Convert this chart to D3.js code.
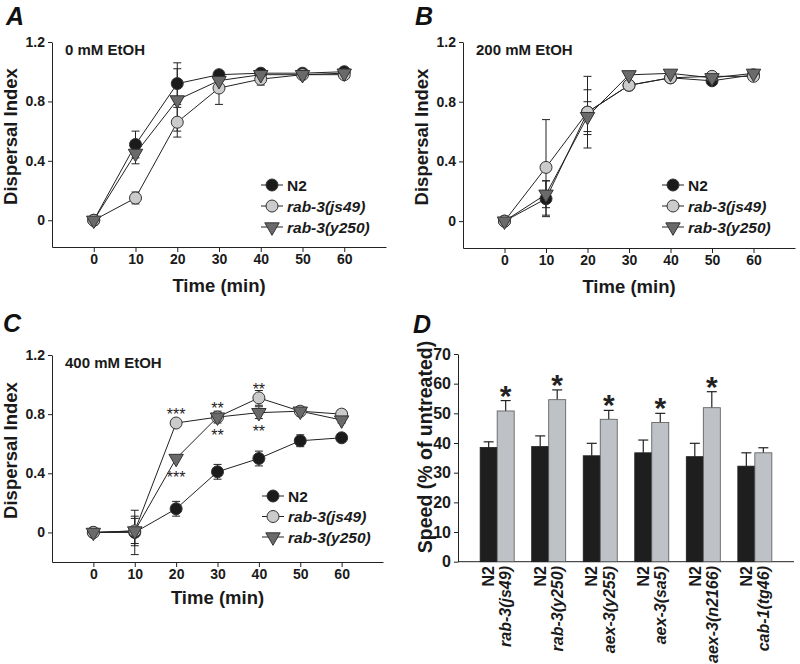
<!DOCTYPE html>
<html><head><meta charset="utf-8">
<script src="https://cdn.jsdelivr.net/npm/d3@7"></script>
<style>body{margin:0;background:#fff}svg{display:block;font-family:"Liberation Sans",Arial,sans-serif}</style>
</head><body><svg id="c" width="800" height="664"></svg>
<script>
// ---------- DATA ----------
const timePoints = [0,10,20,30,40,50,60];
const xTickValues = [0,10,20,30,40,50,60];
const yTickValues = [0,0.4,0.8,1.2];
const seriesNames = ["N2","rab-3(js49)","rab-3(y250)"];

// Panel A: 0 mM EtOH
const aN2 = [0,0.51,0.92,0.98,0.99,0.99,1.00];
const aN2Err = [0.01,0.09,0.14,0.02,0.01,0.01,0.01];
const aJs49 = [0,0.15,0.66,0.89,0.95,0.98,0.98];
const aJs49Err = [0.01,0.04,0.10,0.11,0.04,0.01,0.01];
const aY250 = [0,0.45,0.81,0.94,0.98,0.98,0.99];
const aY250Err = [0.01,0.07,0.21,0.03,0.02,0.01,0.01];

// Panel B: 200 mM EtOH
const bN2 = [0,0.15,0.73,0.91,0.96,0.94,0.98];
const bN2Err = [0.01,0.12,0.24,0.03,0.01,0.01,0.01];
const bJs49 = [0,0.36,0.73,0.91,0.96,0.97,0.97];
const bJs49Err = [0.01,0.32,0.15,0.03,0.01,0.01,0.01];
const bY250 = [0,0.18,0.70,0.98,0.99,0.96,0.99];
const bY250Err = [0.01,0.09,0.10,0.01,0.01,0.01,0.01];

// Panel C: 400 mM EtOH
const cN2 = [0,0.00,0.16,0.41,0.50,0.62,0.64];
const cN2Err = [0.01,0.15,0.05,0.05,0.05,0.04,0.02];
const cJs49 = [0,0.01,0.74,0.78,0.91,0.82,0.80];
const cJs49Err = [0.01,0.085,0.01,0.03,0.05,0.02,0.03];
const cY250 = [0,0.01,0.50,0.78,0.81,0.82,0.76];
const cY250Err = [0.01,0.10,0.01,0.04,0.04,0.03,0.02];
const cSigJs49Above = ["","","***","**","**","",""];
const cSigY250Below = ["","","***","**","**","",""];

// Panel D: speed
const dGenotypes = ["rab-3(js49)","rab-3(y250)","aex-3(y255)","aex-3(sa5)","aex-3(n2166)","cab-1(tg46)"];
const dN2 = [38.5,38.8,35.7,36.7,35.4,32.2];
const dN2Err = [1.9,3.6,4.2,4.3,4.5,4.5];
const dMutant = [50.8,54.6,48.0,46.9,51.9,36.7];
const dMutantErr = [3.5,3.3,3.0,3.1,5.4,1.7];
const dSig = ["*","*","*","*","*",""];
const dYTicks = [0,10,20,30,40,50,60,70];

// ---------- DRAW ----------
const svg = d3.select("#c");
const styles = [
  {fill:"#1b1b1b", shape:"circle"},
  {fill:"#cbcbcb", shape:"circle"},
  {fill:"#6a6a6a", shape:"triangle"}
];
const INK = "#222";

function marker(sel, st){
  if(st.shape==="circle"){
    sel.append("circle").attr("r",6).attr("fill",st.fill).attr("stroke","#333").attr("stroke-width",1);
  } else {
    sel.append("path").attr("d", d3.symbol(d3.symbolTriangle, 90)())
      .attr("transform","rotate(180)").attr("fill",st.fill).attr("stroke","#333").attr("stroke-width",1);
  }
}

function styleAxis(ax, size){
  ax.selectAll("path,line").attr("stroke",INK).attr("stroke-width",1);
  ax.selectAll("text").attr("font-size",size).attr("font-weight","bold").attr("fill","#1a1a1a")
    .attr("font-family",'"Liberation Sans",Arial,sans-serif');
}

function linePanel(o){
  const x = d3.scaleLinear().domain([-10,70]).range([o.x0,o.x1]);
  const y = d3.scaleLinear().domain([o.ymin,1.2]).range([o.yBottom,o.yTop]);
  const g = svg.append("g");
  const ax = g.append("g").attr("transform",`translate(0,${o.yBottom})`)
    .call(d3.axisBottom(x).tickValues(xTickValues).tickSize(5).tickSizeOuter(0).tickPadding(2).tickFormat(d3.format("d")));
  styleAxis(ax,14);
  const ay = g.append("g").attr("transform",`translate(${o.x0},0)`)
    .call(d3.axisLeft(y).tickValues(yTickValues).tickSize(4).tickSizeOuter(0).tickPadding(3)
      .tickFormat(d=>d===0?"0":d3.format(".1f")(d)));
  styleAxis(ay,14);

  // titles
  const xm = (x(0)+x(60))/2;
  g.append("text").attr("x",xm).attr("y",o.titleY).attr("text-anchor","middle")
    .attr("font-size",18.5).attr("font-weight","bold").attr("fill","#1a1a1a").text("Time (min)");
  g.append("text").attr("transform",`translate(${o.x0-35},${(o.yTop+o.yBottom)/2-8}) rotate(-90)`)
    .attr("text-anchor","middle").attr("font-size",18.5).attr("font-weight","bold").attr("fill","#1a1a1a").text("Dispersal Index");
  g.append("text").attr("x",o.x0+13).attr("y",o.yTop+13).attr("font-size",15).attr("font-weight","bold")
    .attr("fill","#1a1a1a").text(o.cond);
  g.append("text").attr("x",o.letterX).attr("y",o.letterY).attr("font-size",25).attr("font-weight","bold")
    .attr("font-style","italic").attr("fill","#111").text(o.letter);

  const line = d3.line().x((d,i)=>x(timePoints[i])).y(d=>y(d));
  o.series.forEach((s)=>{
    g.append("path").attr("d",line(s.v)).attr("fill","none").attr("stroke",INK).attr("stroke-width",1);
  });
  o.series.forEach((s)=>{
    s.v.forEach((v,i)=>{
      const e = s.e[i]; if(e<0.02) return;
      const cx = x(timePoints[i]);
      g.append("line").attr("x1",cx).attr("x2",cx).attr("y1",y(v-e)).attr("y2",y(v+e)).attr("stroke",INK).attr("stroke-width",1);
      [v-e,v+e].forEach(w=>g.append("line").attr("x1",cx-4).attr("x2",cx+4).attr("y1",y(w)).attr("y2",y(w)).attr("stroke",INK).attr("stroke-width",1));
    });
  });
  o.series.forEach((s,k)=>{
    s.v.forEach((v,i)=>{
      const m = g.append("g").attr("transform",`translate(${x(timePoints[i])},${y(v)})`);
      marker(m, styles[k]);
    });
  });
  // significance
  if(o.sigAbove){
    o.sigAbove.forEach((t,i)=>{ if(!t) return;
      g.append("text").attr("x",x(timePoints[i])).attr("y",y(o.series[1].v[i])-3).attr("text-anchor","middle")
        .attr("font-size",16).attr("fill","#222").text(t);
    });
    o.sigBelow.forEach((t,i)=>{ if(!t) return;
      g.append("text").attr("x",x(timePoints[i])).attr("y",y(o.series[2].v[i])+24).attr("text-anchor","middle")
        .attr("font-size",16).attr("fill","#222").text(t);
    });
  }
  // legend
  seriesNames.forEach((nm,k)=>{
    const ly = o.legY + k*o.legGap;
    g.append("line").attr("x1",o.legX-11).attr("x2",o.legX+11).attr("y1",ly).attr("y2",ly).attr("stroke",INK).attr("stroke-width",1);
    const m = g.append("g").attr("transform",`translate(${o.legX},${ly})`);
    marker(m, styles[k]);
    g.append("text").attr("x",o.legX+15).attr("y",ly).attr("dy","0.36em").attr("font-size",15.5)
      .attr("font-weight","bold").attr("font-style",k===0?"normal":"italic").attr("fill","#1a1a1a").text(nm);
  });
}

linePanel({x0:52,x1:386,yTop:42,yBottom:247,ymin:-0.18,titleY:292,cond:"0 mM EtOH",letter:"A",letterX:6,letterY:25,
  legX:272,legY:185,legGap:21,
  series:[{v:aN2,e:aN2Err},{v:aJs49,e:aJs49Err},{v:aY250,e:aY250Err}]});
linePanel({x0:463,x1:795,yTop:42,yBottom:248,ymin:-0.18,titleY:293,cond:"200 mM EtOH",letter:"B",letterX:415,letterY:25,
  legX:673,legY:185,legGap:21,
  series:[{v:bN2,e:bN2Err},{v:bJs49,e:bJs49Err},{v:bY250,e:bY250Err}]});
linePanel({x0:52,x1:383,yTop:355,yBottom:562,ymin:-0.2,titleY:604,cond:"400 mM EtOH",letter:"C",letterX:3,letterY:332,
  legX:273,legY:496,legGap:20.5,
  series:[{v:cN2,e:cN2Err},{v:cJs49,e:cJs49Err},{v:cY250,e:cY250Err}],
  sigAbove:cSigJs49Above, sigBelow:cSigY250Below});

// Panel D
(function(){
  const x0=458,x1=794,yb=561.7,yt=354;
  const y = d3.scaleLinear().domain([0,70]).range([yb,yt]);
  const band = d3.scaleBand().domain(dGenotypes).range([x0,x1]).paddingInner(0.34).paddingOuter(0.43);
  const bw = band.bandwidth()/2;
  const g = svg.append("g");
  const ay = g.append("g").attr("transform",`translate(${x0},0)`)
    .call(d3.axisLeft(y).tickValues(dYTicks).tickSize(4).tickSizeOuter(0).tickPadding(3));
  styleAxis(ay,16);
  g.append("line").attr("x1",x0).attr("x2",x1).attr("y1",yb).attr("y2",yb).attr("stroke",INK).attr("stroke-width",1);

  dGenotypes.forEach((gn,i)=>{
    const bx = band(gn);
    [[bx,dN2[i],dN2Err[i]],[bx+bw,dMutant[i],dMutantErr[i]]].forEach(([xx,v,e])=>{
      const cx = xx+bw/2;
      g.append("line").attr("x1",cx).attr("x2",cx).attr("y1",y(v)).attr("y2",y(v+e)).attr("stroke",INK).attr("stroke-width",1.2);
      g.append("line").attr("x1",cx-5).attr("x2",cx+5).attr("y1",y(v+e)).attr("y2",y(v+e)).attr("stroke",INK).attr("stroke-width",1.2);
    });
    g.append("rect").attr("x",bx).attr("y",y(dN2[i])).attr("width",bw).attr("height",yb-y(dN2[i]))
      .attr("fill","#1e1e1e").attr("stroke","#1e1e1e").attr("stroke-width",0.8);
    g.append("rect").attr("x",bx+bw).attr("y",y(dMutant[i])).attr("width",bw).attr("height",yb-y(dMutant[i]))
      .attr("fill","#bec2c7").attr("stroke","#555").attr("stroke-width",0.8);
    if(dSig[i]){
      g.append("text").attr("x",bx+bw*1.5).attr("y",y(dMutant[i]+dMutantErr[i])+5).attr("text-anchor","middle")
        .attr("font-size",30).attr("font-weight","bold").attr("fill","#222").text(dSig[i]);
    }
    g.append("text").attr("transform",`translate(${bx+bw/2},566) rotate(-90)`).attr("text-anchor","end").attr("dy","0.36em")
      .attr("font-size",16).attr("font-weight","bold").attr("fill","#1a1a1a").text("N2");
    g.append("text").attr("transform",`translate(${bx+bw*1.5},566) rotate(-90)`).attr("text-anchor","end").attr("dy","0.36em")
      .attr("font-size",16).attr("font-weight","bold").attr("font-style","italic").attr("fill","#1a1a1a").text(gn);
  });
  g.append("text").attr("transform",`translate(432,447) rotate(-90)`).attr("text-anchor","middle")
    .attr("font-size",19.5).attr("font-weight","bold").attr("fill","#1a1a1a").text("Speed (% of untreated)");
  g.append("text").attr("x",413).attr("y",333).attr("font-size",25).attr("font-weight","bold")
    .attr("font-style","italic").attr("fill","#111").text("D");
})();
</script></body></html>
